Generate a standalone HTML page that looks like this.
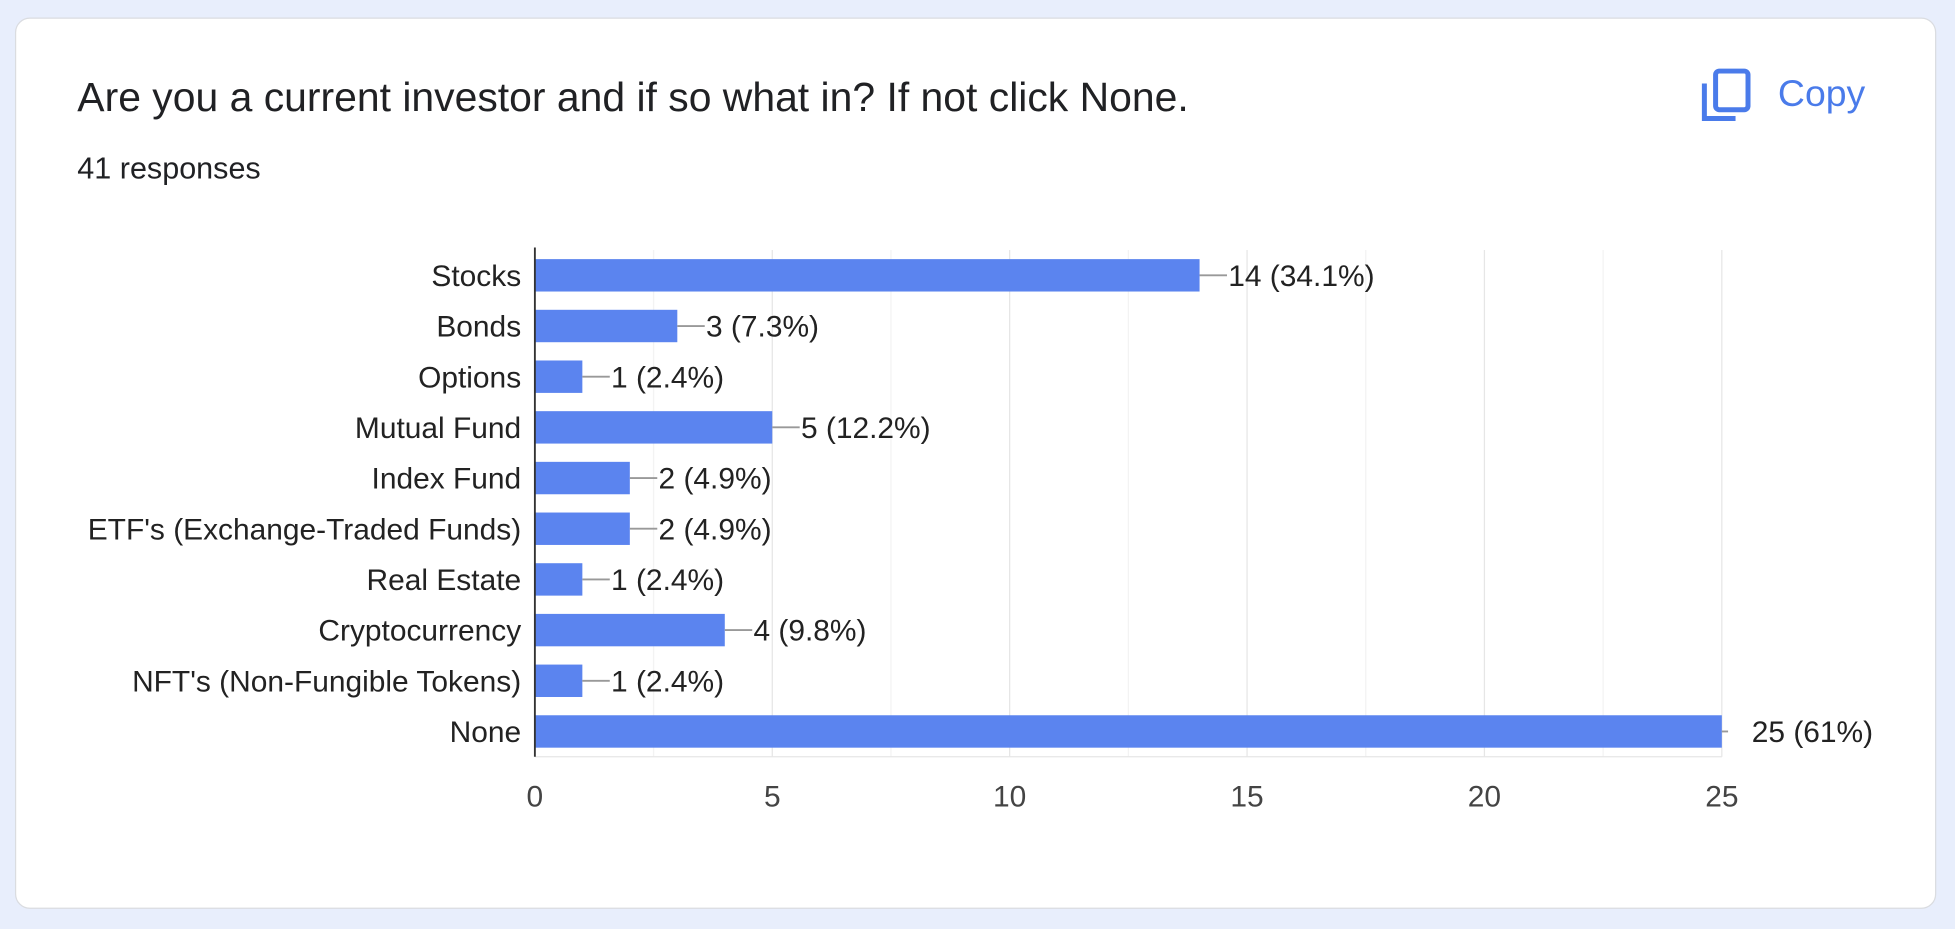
<!DOCTYPE html>
<html><head><meta charset="utf-8"><style>
html,body{margin:0;padding:0;width:1955px;height:929px;overflow:hidden;background:#e8eefc;}
#wrap{position:absolute;left:0;top:0;width:1568px;height:745px;transform:scale(1.2468);transform-origin:0 0;font-family:"Liberation Sans",Arial,sans-serif;}
#card{position:absolute;left:12px;top:14px;width:1541px;height:715px;background:#fff;border:1px solid #dadce0;border-radius:12px;box-sizing:border-box;}
#title{position:absolute;left:62px;top:59px;font-size:32.8px;line-height:38px;color:#202124;white-space:nowrap;}
#resp{position:absolute;left:62px;top:122px;font-size:24.5px;line-height:28px;color:#202124;}
#copy{position:absolute;left:1364px;top:54px;display:flex;align-items:center;color:#4a7bea;font-size:30px;cursor:pointer;}
</style></head><body>
<div id="wrap">
<div id="card"></div>
<div id="title">Are you a current investor and if so what in? If not click None.</div>
<div id="resp">41 responses</div>
<div id="copy">
<svg width="40" height="44" viewBox="0 0 40 44"><rect x="12" y="3" width="26" height="31" rx="3" fill="none" stroke="#4a7bea" stroke-width="4"/><path d="M3 13 V41 H28" fill="none" stroke="#4a7bea" stroke-width="4"/></svg>
<span style="margin-left:22px">Copy</span></div>
<svg id="chart" width="1568" height="745" style="position:absolute;left:0;top:0"></svg>
</div>
<script>
const categories=["Stocks","Bonds","Options","Mutual Fund","Index Fund","ETF's (Exchange-Traded Funds)","Real Estate","Cryptocurrency","NFT's (Non-Fungible Tokens)","None"];
const counts=[14,3,1,5,2,2,1,4,1,25];
const valueLabels=["14 (34.1%)","3 (7.3%)","1 (2.4%)","5 (12.2%)","2 (4.9%)","2 (4.9%)","1 (2.4%)","4 (9.8%)","1 (2.4%)","25 (61%)"];
const ticks=[0,5,10,15,20,25];
const minorTicks=[2.5,7.5,12.5,17.5,22.5];
const NS="http://www.w3.org/2000/svg";
const svg=document.getElementById('chart');
const X0=429,X1=1381,Y0=200.5,Y1=607,xmax=25;
const x=v=>X0+(v/xmax)*(X1-X0);
const band=(Y1-Y0)/categories.length;
const yc=i=>Y0+band*(i+0.5);
function mk(t,a){const e=document.createElementNS(NS,t);for(const k in a)e.setAttribute(k,a[k]);svg.appendChild(e);return e;}
minorTicks.forEach(t=>{const l=mk('line',{x1:x(t),x2:x(t),y1:Y0,y2:Y1,stroke:'#f3f3f3','stroke-width':1});

});
ticks.forEach(t=>{if(t===0)return;const l=mk('line',{x1:x(t),x2:x(t),y1:Y0,y2:Y1,stroke:'#e6e6e6','stroke-width':1});

});
const bl=mk('line',{x1:X0,x2:X1,y1:Y1,y2:Y1,stroke:'#e6e6e6','stroke-width':1});


categories.forEach((c,i)=>{
 const cy=yc(i),h=26,w=x(counts[i])-X0;
 const r=mk('rect',{x:X0,y:cy-h/2,width:w,height:h,fill:'#5b84ef'});
 
 
 const lbl=mk('text',{x:418,y:cy+8.5,'text-anchor':'end','font-size':24,fill:'#222'});lbl.textContent=c;
 
 
 const ex=x(counts[i]);const full=counts[i]>=xmax;
 const ll=mk('line',{x1:ex,x2:ex+(full?5:22),y1:cy,y2:cy,stroke:'#999','stroke-width':1.5});
 
 
 const vt=mk('text',{x:ex+(full?24:23),y:cy+8.5,'font-size':24,fill:'#222'});vt.textContent=valueLabels[i];
 
 
});
const ax=mk('line',{x1:X0,x2:X0,y1:Y0-2,y2:Y1,stroke:'#333','stroke-width':1.5});


ticks.forEach(t=>{const tx=mk('text',{x:x(t),y:647,'text-anchor':'middle','font-size':24,fill:'#444'});tx.textContent=t;

});
</script>
</body></html>
